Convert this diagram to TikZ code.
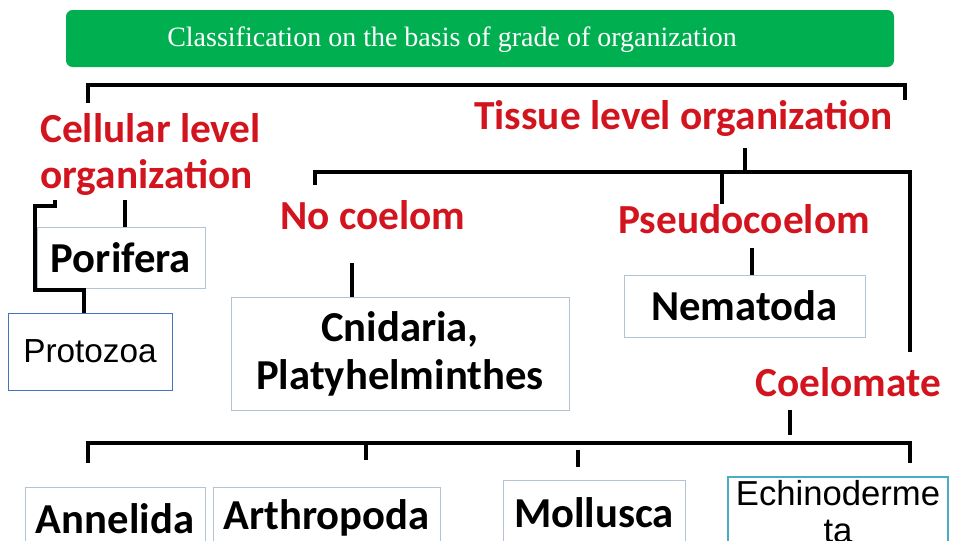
\documentclass[tikz,border=0pt]{standalone}
\usepackage{fontspec}
\setmainfont{Liberation Serif}
\newfontfamily\calib{Carlito}
\newfontfamily\arialf{Liberation Sans}
\usetikzlibrary{positioning,calc}
\definecolor{titlegreen}{RGB}{0,176,80}
\definecolor{levelred}{RGB}{210,20,30}
\definecolor{boxgray}{RGB}{180,195,210}
\definecolor{protoblue}{RGB}{68,114,196}
\definecolor{echiteal}{RGB}{75,172,198}

\begin{document}
\begin{tikzpicture}[x=0.75pt,y=-0.75pt,
    level/.style={font=\calib\bfseries\fontsize{31}{38}\selectfont, text=levelred, inner sep=0pt},
    taxon/.style={draw=boxgray, fill=white, font=\calib\bfseries\fontsize{32}{38}\selectfont, inner sep=0pt},
    plain/.style={draw, fill=white, font=\arialf\fontsize{25}{28}\selectfont, inner sep=0pt},
    link/.style={line width=2.6pt}
]
\useasboundingbox (0,0) rectangle (960,540);
\clip (0,0) rectangle (960,540);

% Title
\node[fill=titlegreen, rounded corners=5pt, minimum width=828*0.75pt, minimum height=57*0.75pt] (title) at (480,38.5) {};
\node[text=white, font=\fontsize{21}{24}\selectfont] (titletext) at (452,40) {Classification on the basis of grade of organization};

% Levels
\node[level, align=left, anchor=north west] (cell) at (40,113) {Cellular level\\[-3pt]organization};
\node[level, anchor=north west] (tissue) at (474,100) {Tissue level organization};
\node[level, anchor=north west] (nocoel) at (280,200) {No coelom};
\node[level, anchor=north west] (pseudo) at (618,204) {Pseudocoelom};
\node[level, anchor=north west] (coel) at (755,367) {Coelomate};

% Taxa
\node[taxon, minimum width=168*0.75pt, minimum height=61*0.75pt] (porifera) at (121,257.5) {Porifera};
\node[plain, draw=protoblue, minimum width=164*0.75pt, minimum height=77*0.75pt] (protozoa) at (90,351.5) {Protozoa};
\node[taxon, align=center, minimum width=338*0.75pt, minimum height=113*0.75pt] (cnid) at (400,353.5) {Cnidaria,\\[-2pt]Platyhelminthes};
\node[taxon, minimum width=241*0.75pt, minimum height=62*0.75pt] (nema) at (744.5,306) {Nematoda};
\node[taxon, anchor=north, minimum width=180*0.75pt, minimum height=62*0.75pt] (annel) at (115,487) {Annelida};
\node[taxon, anchor=north, minimum width=227*0.75pt, minimum height=62*0.75pt] (arth) at (326.5,487) {Arthropoda};
\node[taxon, anchor=north, minimum width=182*0.75pt, minimum height=64*0.75pt] (moll) at (594,480) {Mollusca};
\node[plain, draw=echiteal, line width=1.2pt, anchor=north, align=center, font=\arialf\fontsize{26}{28}\selectfont,
      minimum width=220*0.75pt, minimum height=70*0.75pt] (echi) at (838,476) {Echinoderme\\ta};

% Connectors
\coordinate (topl) at (88,85);
\coordinate (topr) at (905,85);
\draw[link] (88,103) -- (topl) -- (topr) -- ++(0,15);
\draw[link] (745,148) -- (745,170);
\draw[link] (315,185) -- (315,172) -- (910,172) -- (910,352);
\draw[link] (722,172) -- (722,0 |- pseudo.north);
\draw[link] (125,200) -- (125,0 |- porifera.north);
\draw[link] (55,200) -- (55,206) -- (35,206) -- (35,290) -- (84,290) -- (84,0 |- protozoa.north);
\draw[link] (352,263) -- (352,0 |- cnid.north);
\draw[link] (752,248) -- (752,0 |- nema.north);
\draw[link] (790,410) -- (790,435);
\draw[link] (88,463) -- (88,443) -- (910,443) -- (910,463);
\draw[link] (366,443) -- (366,460);
\draw[link] (578,450) -- (578,467);
\end{tikzpicture}
\end{document}
